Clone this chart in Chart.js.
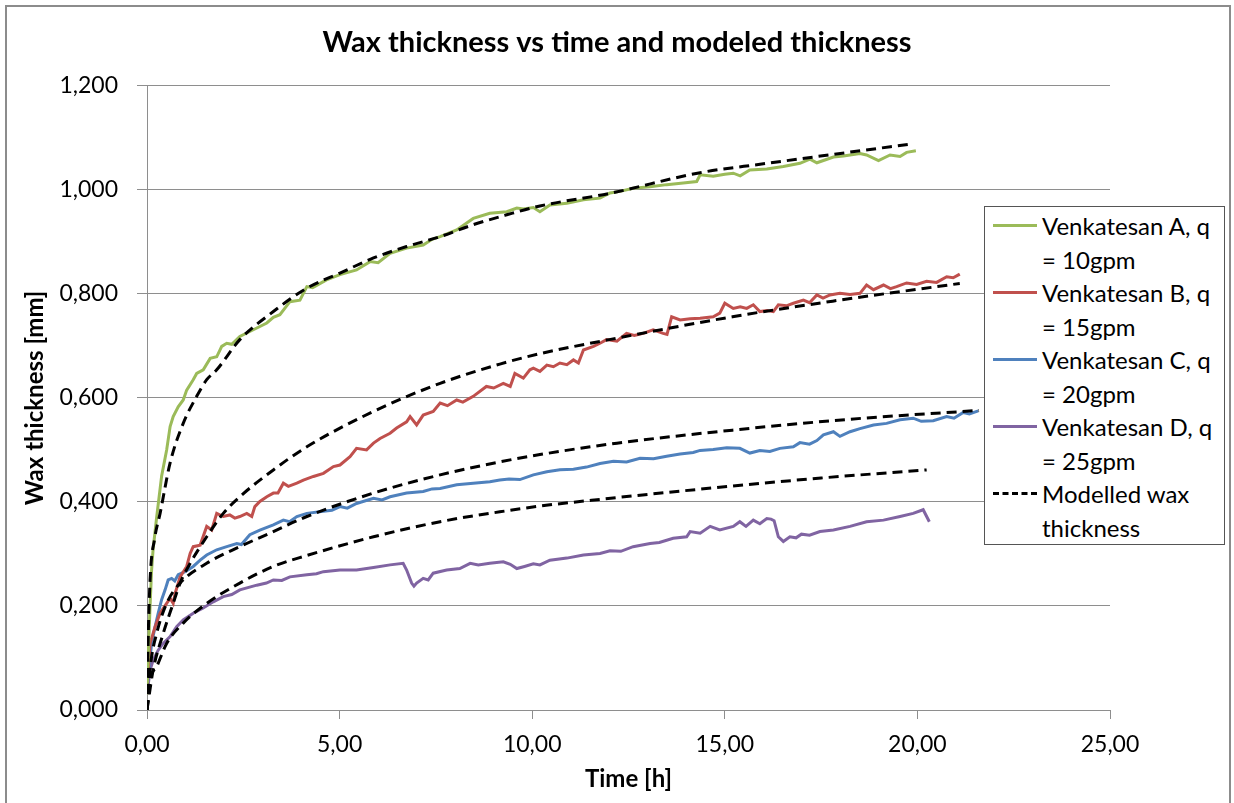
<!DOCTYPE html>
<html>
<head>
<meta charset="utf-8">
<title>Wax thickness vs time</title>
<script src="https://cdn.jsdelivr.net/npm/chart.js@4.4.1/dist/chart.umd.min.js"></script>
<style>
  html, body { margin: 0; padding: 0; background: #fff; overflow: hidden; }
  #wrap { position: relative; width: 1234px; height: 803px; }
  #frame {
    position: absolute; left: 5px; top: 5px; width: 1226px; height: 820px;
    border: 2px solid #8c8c8c; box-sizing: border-box; pointer-events: none;
  }
  #chart { position: absolute; left: 0; top: 0; }
  #legend {
    position: absolute; left: 984px; top: 206px; width: 241px; height: 339px;
    box-sizing: border-box; border: 1.5px solid #555; background: #fff;
    font-family: Lato, "Open Sans", sans-serif; font-size: 24px; color: #000;
    padding-top: 2px;
  }
  .item { display: flex; align-items: flex-start; }
  .swatch { width: 44px; height: 33.5px; margin-left: 8px; margin-right: 5px; position: relative; flex: none; }
  .swatch span { position: absolute; left: 0; right: 0; top: 15px; border-top: 3px solid; }
  .label { white-space: pre-line; line-height: 33.5px; }
</style>
</head>
<body>
<div id="wrap">
  <canvas id="chart" width="1234" height="803"></canvas>
  <div id="legend"></div>
  <div id="frame"></div>
</div>
<script>
// measured thickness [h, mm]
const venkatesanA = [
  [0, 0.03], [0.04, 0.12], [0.08, 0.2], [0.12, 0.27], [0.16, 0.31], [0.25, 0.37], [0.38, 0.45],
  [0.51, 0.5], [0.6, 0.545], [0.68, 0.564], [0.81, 0.583], [0.94, 0.596], [1.03, 0.615], [1.2, 0.635],
  [1.29, 0.647], [1.46, 0.654], [1.64, 0.676], [1.81, 0.679], [1.94, 0.699], [2.07, 0.705], [2.2, 0.703],
  [2.41, 0.718], [2.76, 0.731], [3.11, 0.744], [3.28, 0.755], [3.45, 0.76], [3.71, 0.785], [3.97, 0.788],
  [4.15, 0.814], [4.3, 0.812], [4.66, 0.827], [5.01, 0.837], [5.44, 0.846], [5.79, 0.862], [6.0, 0.86],
  [6.31, 0.878], [6.74, 0.888], [7.17, 0.894], [7.4, 0.905], [7.61, 0.91], [8.04, 0.923], [8.47, 0.945],
  [8.9, 0.955], [9.34, 0.958], [9.6, 0.965], [9.77, 0.963], [10.03, 0.966], [10.2, 0.958], [10.46, 0.971],
  [10.9, 0.974], [11.33, 0.981], [11.76, 0.984], [12.02, 0.994], [12.28, 0.997], [12.62, 1.003],
  [13.06, 1.006], [13.49, 1.01], [13.92, 1.013], [14.27, 1.016], [14.36, 1.029], [14.7, 1.026],
  [15.0, 1.03], [15.22, 1.032], [15.4, 1.027], [15.65, 1.038], [16.09, 1.04], [16.52, 1.045],
  [16.95, 1.051], [17.21, 1.059], [17.39, 1.052], [17.82, 1.063], [18.08, 1.065], [18.51, 1.07],
  [18.68, 1.067], [18.99, 1.056], [19.29, 1.067], [19.55, 1.064], [19.72, 1.072], [19.96, 1.075]
];

const venkatesanB = [
  [0, 0.04], [0.08, 0.128], [0.21, 0.16], [0.34, 0.186], [0.51, 0.205], [0.6, 0.215], [0.68, 0.205],
  [0.73, 0.224], [0.86, 0.256], [1.03, 0.276], [1.12, 0.301], [1.2, 0.314], [1.38, 0.317], [1.55, 0.353],
  [1.68, 0.346], [1.81, 0.378], [1.98, 0.372], [2.15, 0.375], [2.28, 0.369], [2.41, 0.372], [2.59, 0.378],
  [2.72, 0.372], [2.8, 0.391], [2.93, 0.401], [3.11, 0.41], [3.28, 0.417], [3.4, 0.417], [3.54, 0.436],
  [3.67, 0.43], [3.89, 0.436], [4.06, 0.442], [4.32, 0.449], [4.58, 0.455], [4.84, 0.468], [5.01, 0.471],
  [5.27, 0.487], [5.44, 0.503], [5.7, 0.5], [5.88, 0.513], [6.05, 0.522], [6.31, 0.532], [6.48, 0.542],
  [6.74, 0.554], [6.83, 0.564], [7.0, 0.548], [7.17, 0.567], [7.43, 0.574], [7.61, 0.59], [7.8, 0.585],
  [8.04, 0.596], [8.2, 0.592], [8.47, 0.603], [8.81, 0.622], [9.0, 0.619], [9.25, 0.628], [9.43, 0.622],
  [9.55, 0.647], [9.77, 0.638], [9.94, 0.654], [10.03, 0.657], [10.2, 0.651], [10.38, 0.663],
  [10.55, 0.66], [10.72, 0.667], [10.9, 0.664], [11.07, 0.673], [11.2, 0.667], [11.33, 0.692],
  [11.59, 0.699], [11.76, 0.705], [11.93, 0.712], [12.2, 0.709], [12.45, 0.724], [12.65, 0.72],
  [12.88, 0.724], [13.14, 0.731], [13.4, 0.724], [13.5, 0.722], [13.62, 0.756], [13.84, 0.75],
  [14.1, 0.752], [14.36, 0.753], [14.7, 0.756], [14.87, 0.763], [15.0, 0.782], [15.22, 0.772],
  [15.4, 0.775], [15.57, 0.772], [15.74, 0.779], [15.91, 0.766], [16.1, 0.768], [16.26, 0.766],
  [16.39, 0.779], [16.6, 0.777], [16.78, 0.782], [17.04, 0.788], [17.2, 0.783], [17.39, 0.798],
  [17.55, 0.792], [17.73, 0.798], [17.99, 0.801], [18.25, 0.799], [18.51, 0.801], [18.68, 0.817],
  [18.86, 0.808], [19.12, 0.817], [19.3, 0.81], [19.46, 0.814], [19.72, 0.821], [19.98, 0.818],
  [20.24, 0.824], [20.5, 0.822], [20.76, 0.833], [20.93, 0.831], [21.1, 0.838]
];

const venkatesanC = [
  [0, 0.04], [0.05, 0.08], [0.12, 0.128], [0.21, 0.16], [0.29, 0.186], [0.38, 0.212], [0.47, 0.231],
  [0.55, 0.25], [0.64, 0.253], [0.72, 0.248], [0.81, 0.26], [0.99, 0.266], [1.2, 0.276], [1.38, 0.288],
  [1.55, 0.298], [1.81, 0.308], [2.07, 0.314], [2.33, 0.32], [2.45, 0.318], [2.67, 0.337], [2.93, 0.346],
  [3.28, 0.356], [3.54, 0.365], [3.7, 0.362], [3.89, 0.372], [4.15, 0.378], [4.58, 0.382], [4.8, 0.384],
  [5.01, 0.391], [5.2, 0.388], [5.44, 0.397], [5.88, 0.407], [6.1, 0.404], [6.31, 0.41], [6.74, 0.417],
  [7.17, 0.42], [7.4, 0.425], [7.61, 0.426], [8.04, 0.433], [8.47, 0.436], [8.9, 0.439], [9.16, 0.442],
  [9.4, 0.444], [9.68, 0.443], [10.03, 0.452], [10.38, 0.458], [10.72, 0.462], [11.07, 0.463],
  [11.41, 0.467], [11.76, 0.474], [12.11, 0.478], [12.45, 0.477], [12.8, 0.484], [13.15, 0.483],
  [13.49, 0.488], [13.84, 0.492], [14.18, 0.495], [14.36, 0.499], [14.7, 0.501], [15.05, 0.504],
  [15.39, 0.503], [15.65, 0.494], [15.91, 0.499], [16.17, 0.497], [16.43, 0.503], [16.78, 0.506],
  [16.95, 0.514], [17.2, 0.511], [17.39, 0.518], [17.56, 0.529], [17.82, 0.535], [17.99, 0.526],
  [18.25, 0.535], [18.51, 0.541], [18.86, 0.548], [19.2, 0.551], [19.55, 0.558], [19.89, 0.561],
  [20.1, 0.555], [20.41, 0.556], [20.76, 0.564], [20.95, 0.561], [21.19, 0.572], [21.35, 0.569],
  [21.58, 0.575]
];

const venkatesanD = [
  [0, 0.03], [0.08, 0.077], [0.16, 0.096], [0.29, 0.115], [0.42, 0.128], [0.6, 0.141], [0.77, 0.16],
  [0.94, 0.173], [1.2, 0.186], [1.46, 0.196], [1.72, 0.208], [1.98, 0.218], [2.2, 0.222], [2.41, 0.231],
  [2.85, 0.24], [3.1, 0.244], [3.28, 0.25], [3.5, 0.249], [3.71, 0.256], [4.15, 0.26], [4.4, 0.262],
  [4.58, 0.266], [5.01, 0.269], [5.44, 0.269], [5.88, 0.274], [6.31, 0.279], [6.65, 0.282], [6.74, 0.269],
  [6.87, 0.244], [6.93, 0.238], [7.0, 0.244], [7.17, 0.253], [7.3, 0.25], [7.43, 0.263], [7.78, 0.269],
  [8.12, 0.272], [8.39, 0.282], [8.6, 0.279], [8.9, 0.282], [9.25, 0.285], [9.43, 0.28], [9.6, 0.272],
  [9.8, 0.276], [10.03, 0.281], [10.2, 0.279], [10.46, 0.288], [10.9, 0.292], [11.33, 0.298],
  [11.76, 0.301], [12.02, 0.306], [12.3, 0.305], [12.62, 0.314], [13.06, 0.32], [13.3, 0.322],
  [13.66, 0.33], [14.01, 0.333], [14.1, 0.343], [14.36, 0.34], [14.62, 0.353], [14.87, 0.346],
  [15.22, 0.353], [15.39, 0.362], [15.55, 0.353], [15.74, 0.365], [15.91, 0.358], [16.09, 0.368],
  [16.2, 0.367], [16.28, 0.364], [16.39, 0.333], [16.52, 0.324], [16.69, 0.333], [16.85, 0.331],
  [16.99, 0.338], [17.2, 0.336], [17.47, 0.343], [17.82, 0.346], [18.25, 0.353], [18.68, 0.362],
  [19.12, 0.365], [19.55, 0.372], [19.89, 0.378], [20.15, 0.385], [20.31, 0.362]
];

// modelled thickness [h, mm]
const modelA = [
  [0, 0], [0.02, 0.1], [0.08, 0.25], [0.2, 0.33], [0.34, 0.378], [0.6, 0.475], [0.94, 0.551],
  [1.29, 0.603], [1.55, 0.635], [1.81, 0.654], [2.41, 0.712], [3.28, 0.766], [4.15, 0.811],
  [5.01, 0.84], [5.88, 0.869], [6.74, 0.891], [7.61, 0.91], [8.47, 0.933], [9.34, 0.952],
  [10.2, 0.969], [12.0, 0.993], [14.36, 1.033], [16.0, 1.05], [18.0, 1.07], [19.83, 1.088]
];
const modelB = [
  [0, 0], [0.16, 0.077], [0.42, 0.147], [0.68, 0.205], [0.86, 0.244], [1.12, 0.282], [1.55, 0.333],
  [1.98, 0.378], [2.41, 0.41], [3.28, 0.4615], [4.15, 0.506], [5.88, 0.574], [7.61, 0.628],
  [9.16, 0.665], [10.2, 0.685], [12.0, 0.712], [15.2, 0.756], [17.8, 0.786], [21.1, 0.82]
];
const modelC = [
  [0, 0], [0.09, 0.085], [0.25, 0.147], [0.51, 0.205], [0.86, 0.244], [1.55, 0.282], [2.41, 0.314],
  [3.28, 0.343], [4.15, 0.372], [5.88, 0.417], [7.61, 0.452], [9.16, 0.477], [10.2, 0.491],
  [12.2, 0.513], [15.2, 0.538], [18.25, 0.559], [21.6, 0.576]
];
const modelD = [
  [0, 0], [0.09, 0.06], [0.25, 0.083], [0.51, 0.128], [0.94, 0.167], [1.55, 0.205], [2.41, 0.244],
  [3.28, 0.276], [4.15, 0.297], [5.88, 0.333], [7.61, 0.362], [9.16, 0.381], [10.2, 0.392],
  [11.9, 0.406], [14.7, 0.427], [17.5, 0.446], [20.24, 0.4615]
];

const FONT = 'Lato, "Open Sans", sans-serif';
const GRID = '#8e8e8e';

const toPoints = (rows) => rows.map(([x, y]) => ({ x, y }));

function measured(label, rows, color) {
  return {
    label, data: toPoints(rows), borderColor: color, backgroundColor: color,
    borderWidth: 3, pointRadius: 0, tension: 0, order: 1
  };
}

function modelled(rows) {
  return {
    label: 'Modelled wax\nthickness', data: toPoints(rows), borderColor: '#000', backgroundColor: '#000',
    borderWidth: 3, borderDash: [10, 6], pointRadius: 0, cubicInterpolationMode: 'monotone', order: 0
  };
}

const datasets = [
  measured('Venkatesan A, q\n= 10gpm', venkatesanA, '#9bbb59'),
  measured('Venkatesan B, q\n= 15gpm', venkatesanB, '#c0504d'),
  measured('Venkatesan C, q\n= 20gpm', venkatesanC, '#4f81bd'),
  measured('Venkatesan D, q\n= 25gpm', venkatesanD, '#8064a2'),
  modelled(modelA), modelled(modelB), modelled(modelC), modelled(modelD)
];

const chart = new Chart(document.getElementById('chart'), {
  type: 'line',
  data: { datasets },
  options: {
    responsive: false,
    animation: false,
    layout: { padding: 0 },
    plugins: {
      legend: { display: false },
      tooltip: { enabled: false },
      title: {
        display: true,
        text: 'Wax thickness vs time and modeled thickness',
        color: '#000',
        font: { family: FONT, size: 29, weight: 'bold' },
        padding: { top: 25, bottom: 26 }
      }
    },
    scales: {
      x: {
        type: 'linear', min: 0, max: 25,
        afterFit: (s) => { s.height = 93; },
        border: { color: GRID, width: 1 },
        grid: { drawOnChartArea: false, drawTicks: true, tickLength: 9, color: GRID },
        ticks: {
          stepSize: 5, padding: 12, color: '#000',
          font: { family: FONT, size: 23 },
          callback: (v) => v.toFixed(2).replace('.', ',')
        },
        title: {
          display: true, text: 'Time [h]', color: '#000',
          font: { family: FONT, size: 24, weight: 'bold' },
          padding: { top: 0, bottom: 9 }
        }
      },
      y: {
        min: 0, max: 1.2,
        afterFit: (s) => { s.width = 147; },
        border: { color: GRID, width: 1 },
        grid: { color: GRID, lineWidth: 1, tickLength: 10 },
        ticks: {
          stepSize: 0.2, padding: 19, color: '#000',
          font: { family: FONT, size: 23 },
          callback: (v) => v.toFixed(3).replace('.', ',')
        },
        title: {
          display: true, text: 'Wax thickness [mm]', color: '#000',
          font: { family: FONT, size: 24, weight: 'bold' },
          padding: { top: 21, bottom: 0 }
        }
      },
      // empty strip on the right that holds the legend box
      side: {
        position: 'right', display: true, min: 0, max: 1,
        afterFit: (s) => { s.width = 124; },
        border: { display: false },
        grid: { drawOnChartArea: false, drawTicks: false },
        ticks: { display: false }
      }
    }
  }
});

// legend box: one entry per distinct label
const legendEl = document.getElementById('legend');
const seen = new Set();
chart.data.datasets.forEach((ds) => {
  if (seen.has(ds.label)) return;
  seen.add(ds.label);
  const item = document.createElement('div');
  item.className = 'item';
  const sw = document.createElement('div');
  sw.className = 'swatch';
  const line = document.createElement('span');
  line.style.borderTopColor = ds.borderColor;
  if (ds.borderDash) line.style.borderTopStyle = 'dashed';
  sw.appendChild(line);
  const txt = document.createElement('div');
  txt.className = 'label';
  txt.textContent = ds.label;
  item.appendChild(sw);
  item.appendChild(txt);
  legendEl.appendChild(item);
});
</script>
</body>
</html>
